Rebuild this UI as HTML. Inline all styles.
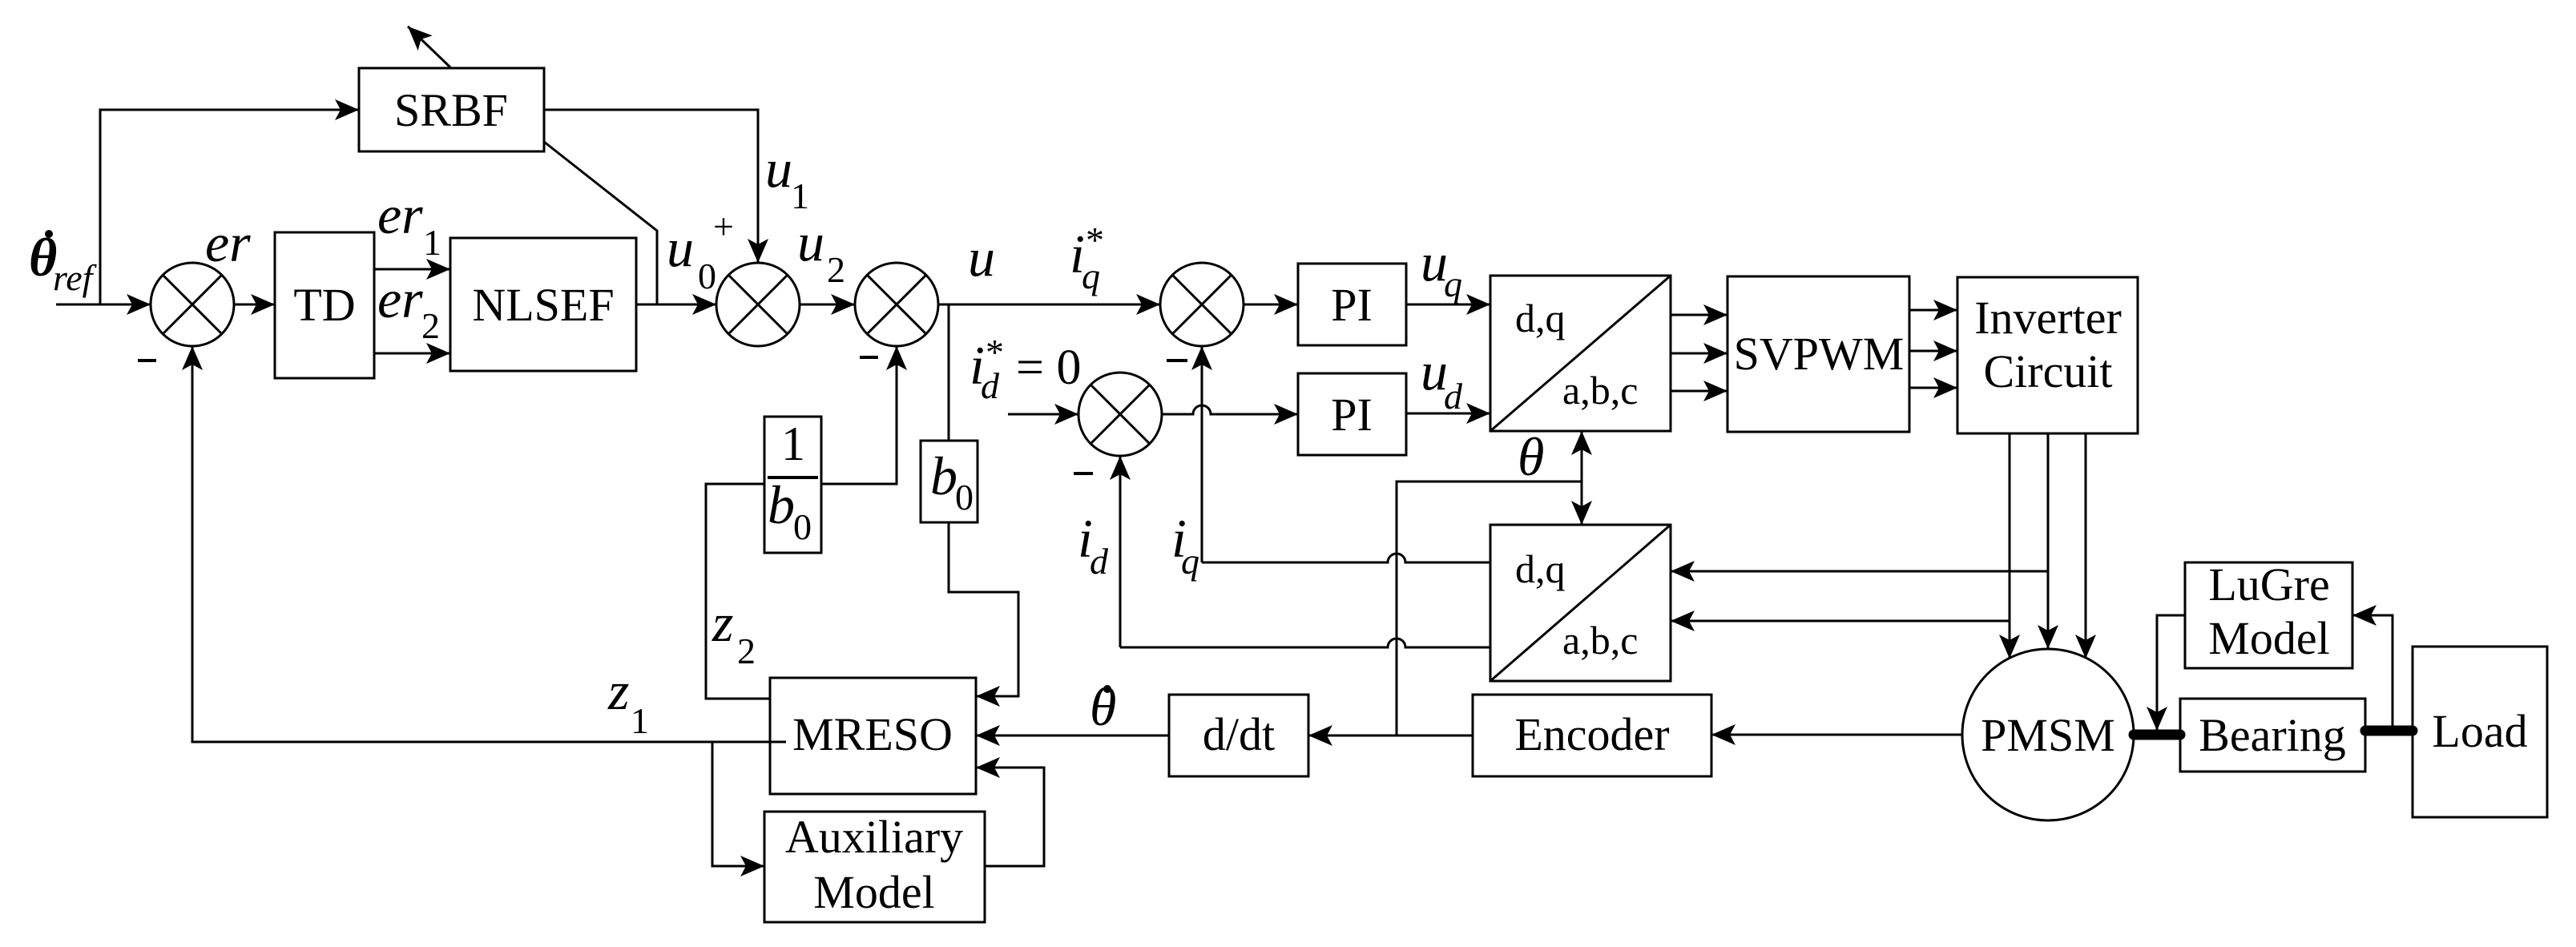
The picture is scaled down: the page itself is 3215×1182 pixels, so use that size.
<!DOCTYPE html>
<html><head><meta charset="utf-8"><style>
html,body{margin:0;padding:0;background:#fff;}
svg{display:block;font-family:"Liberation Serif","Times New Roman",serif;}
svg text{font-family:"Liberation Serif","Times New Roman",serif !important;fill:#000;}
.b{font-size:58px;text-anchor:middle;}
.i{font-style:italic;font-size:68px;}
.s{font-style:italic;font-size:46px;}
.n{font-size:46px;}
</style></head><body>
<svg width="3215" height="1182" viewBox="0 0 3215 1182" xmlns="http://www.w3.org/2000/svg" font-family="Liberation Serif, serif">
<defs>
<marker id="a" markerUnits="userSpaceOnUse" markerWidth="32" markerHeight="26" refX="30" refY="13" orient="auto">
<path d="M0,0 L30,13 L0,26 L7,13 z" fill="#000"/>
</marker>
</defs>
<g fill="none" stroke="#000" stroke-width="3">
<rect x="448" y="85" width="231" height="104"/>
<rect x="343" y="290" width="124" height="182"/>
<rect x="562" y="297" width="232" height="166"/>
<rect x="1149" y="550" width="71" height="102"/>
<rect x="954" y="520" width="71" height="170"/>
<rect x="1620" y="329" width="135" height="102"/>
<rect x="1620" y="466" width="135" height="102"/>
<rect x="1860" y="344" width="225" height="194"/>
<path d="M1860,538 L2085,344"/>
<rect x="1860" y="655" width="225" height="195"/>
<path d="M1860,850 L2085,655"/>
<rect x="2156" y="345" width="227" height="194"/>
<rect x="2443" y="346" width="225" height="195"/>
<rect x="961" y="846" width="257" height="145"/>
<rect x="954" y="1013" width="275" height="138"/>
<rect x="1459" y="867" width="174" height="102"/>
<rect x="1838" y="867" width="298" height="102"/>
<rect x="2721" y="872" width="231" height="91"/>
<rect x="3011" y="807" width="168" height="213"/>
<rect x="2727" y="702" width="209" height="132"/>
<circle cx="2556" cy="917" r="107"/>
<circle cx="240" cy="380" r="52"/><path d="M203,343 L277,417 M277,343 L203,417"/>
<circle cx="946" cy="380" r="52"/><path d="M909,343 L983,417 M983,343 L909,417"/>
<circle cx="1119" cy="380" r="52"/><path d="M1082,343 L1156,417 M1156,343 L1082,417"/>
<circle cx="1500" cy="380" r="52"/><path d="M1463,343 L1537,417 M1537,343 L1463,417"/>
<circle cx="1398" cy="517" r="52"/><path d="M1361,480 L1435,554 M1435,480 L1361,554"/>
<path d="M70,380 H188" marker-end="url(#a)"/>
<path d="M125,380 V137 H448" marker-end="url(#a)"/>
<path d="M562,84 L509,33" marker-end="url(#a)"/>
<path d="M679,137 H946 V328" marker-end="url(#a)"/>
<path d="M292,380 H343" marker-end="url(#a)"/>
<path d="M467,336 H562" marker-end="url(#a)"/>
<path d="M467,441 H562" marker-end="url(#a)"/>
<path d="M794,380 H894" marker-end="url(#a)"/>
<path d="M679,177 L820,288 V380"/>
<path d="M998,380 H1067" marker-end="url(#a)"/>
<path d="M1171,380 H1448" marker-end="url(#a)"/>
<path d="M1184,380 V550"/>
<path d="M1184,652 V739 H1271 V869 H1218" marker-end="url(#a)"/>
<path d="M1552,380 H1620" marker-end="url(#a)"/>
<path d="M1755,380 H1860" marker-end="url(#a)"/>
<path d="M1258,517 H1346" marker-end="url(#a)"/>
<path d="M1450,517 H1489 A11,11 0 0 1 1511,517 H1620" marker-end="url(#a)"/>
<path d="M1755,516 H1860" marker-end="url(#a)"/>
<path d="M2085,393 H2156" marker-end="url(#a)"/>
<path d="M2085,441 H2156" marker-end="url(#a)"/>
<path d="M2085,488 H2156" marker-end="url(#a)"/>
<path d="M2383,387 H2443" marker-end="url(#a)"/>
<path d="M2383,438 H2443" marker-end="url(#a)"/>
<path d="M2383,484 H2443" marker-end="url(#a)"/>
<path d="M2508,541 V822" marker-end="url(#a)"/>
<path d="M2556,541 V810" marker-end="url(#a)"/>
<path d="M2603,541 V822" marker-end="url(#a)"/>
<path d="M2556,713 H2085" marker-end="url(#a)"/>
<path d="M2508,775 H2085" marker-end="url(#a)"/>
<path d="M1974,601 V538" marker-end="url(#a)"/>
<path d="M1974,601 V655" marker-end="url(#a)"/>
<path d="M1743,918 V601 H1974"/>
<path d="M1500,702 V432" marker-end="url(#a)"/>
<path d="M1500,702 H1732 A11,11 0 0 1 1754,702 H1860"/>
<path d="M1398,808 V569" marker-end="url(#a)"/>
<path d="M1398,808 H1732 A11,11 0 0 1 1754,808 H1860"/>
<path d="M2449,917 H2136" marker-end="url(#a)"/>
<path d="M1838,918 H1633" marker-end="url(#a)"/>
<path d="M1459,918 H1218" marker-end="url(#a)"/>
<path d="M981,926 H240 V432" marker-end="url(#a)"/>
<path d="M889,926 V1081 H954" marker-end="url(#a)"/>
<path d="M1229,1081 H1303 V958 H1218" marker-end="url(#a)"/>
<path d="M1025,604 H1119 V432" marker-end="url(#a)"/>
<path d="M954,604 H881 V872 H961"/>
<path d="M2727,768 H2692 V912" marker-end="url(#a)"/>
<path d="M2986,912 V768 H2936" marker-end="url(#a)"/>
<path d="M2663,917 H2721" stroke-width="13" stroke-linecap="round"/>
<path d="M2952,912 H3011" stroke-width="13" stroke-linecap="round"/>
<path d="M958,596 H1021" stroke-width="4"/>
<path d="M172,450 H195 M1073,446 H1096 M1456,450 H1482 M1340,591 H1364" stroke-width="4"/>
</g>
<g font-family="Liberation Serif, serif">
<text class="b" x="563" y="157">SRBF</text>
<text class="b" x="405" y="400">TD</text>
<text class="b" x="678" y="400">NLSEF</text>
<text class="b" x="1687" y="400">PI</text>
<text class="b" x="1687" y="537">PI</text>
<text class="b" x="2270" y="461">SVPWM</text>
<text class="b" x="2556" y="416">Inverter</text>
<text class="b" x="2556" y="483">Circuit</text>
<text class="b" x="2556" y="937">PMSM</text>
<text class="b" x="2836" y="937">Bearing</text>
<text class="b" x="3095" y="932">Load</text>
<text class="b" x="2832" y="749">LuGre</text>
<text class="b" x="2832" y="816">Model</text>
<text class="b" x="1089" y="936">MRESO</text>
<text class="b" x="1091" y="1064">Auxiliary</text>
<text class="b" x="1091" y="1133">Model</text>
<text class="b" x="1546" y="936">d/dt</text>
<text class="b" x="1987" y="936">Encoder</text>
<text style="font-size:50px" x="1891" y="414">d,q</text>
<text style="font-size:50px" x="1950" y="504">a,b,c</text>
<text style="font-size:50px" x="1891" y="727">d,q</text>
<text style="font-size:50px" x="1950" y="816">a,b,c</text>
<text class="i" x="36" y="344" style="font-weight:bold">θ</text>
<text class="s" x="66" y="362">ref</text>
<text class="i" x="256" y="326">er</text>
<text class="i" x="471" y="291">er</text><text class="n" x="528" y="318">1</text>
<text class="i" x="471" y="396">er</text><text class="n" x="526" y="422">2</text>
<text class="i" x="832" y="332">u</text><text class="n" x="871" y="360">0</text>
<text class="n" x="890" y="298">+</text>
<text class="i" x="955" y="233">u</text><text class="n" x="987" y="260">1</text>
<text class="i" x="995" y="325">u</text><text class="n" x="1032" y="352">2</text>
<text class="i" x="1208" y="344">u</text>
<text class="i" x="1335" y="340">i</text><text class="s" x="1350" y="360">q</text><text class="n" x="1355" y="315">*</text>
<text class="i" x="1210" y="479">i</text><text class="s" x="1224" y="497">d</text><text class="n" x="1230" y="455">*</text>
<text style="font-size:62px" x="1268" y="479">= 0</text>
<text class="i" x="1773" y="350">u</text><text class="s" x="1802" y="370">q</text>
<text class="i" x="1773" y="486">u</text><text class="s" x="1802" y="510">d</text>
<text class="i" x="1894" y="593">θ</text>
<text class="i" x="1345" y="695">i</text><text class="s" x="1360" y="716">d</text>
<text class="i" x="1462" y="695">i</text><text class="s" x="1474" y="716">q</text>
<text class="i" x="1161" y="617">b</text><text class="n" x="1192" y="636">0</text>
<text style="font-size:60px" x="975" y="574">1</text>
<text class="i" x="958" y="653">b</text><text class="n" x="990" y="673">0</text>
<text class="i" x="759" y="885">z</text><text class="n" x="787" y="915">1</text>
<text class="i" x="889" y="800">z</text><text class="n" x="920" y="828">2</text>
<text class="i" x="1360" y="905">θ</text>
</g>
<circle cx="61" cy="292" r="5" fill="#000"/>
<circle cx="1382" cy="860" r="5" fill="#000"/>
</svg>
</body></html>
